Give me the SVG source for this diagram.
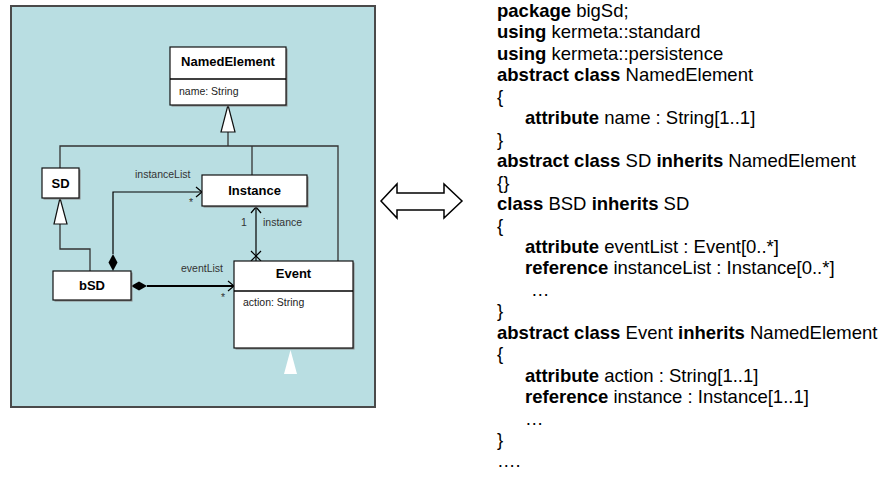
<svg xmlns="http://www.w3.org/2000/svg" width="882" height="485" viewBox="0 0 882 485">
<style>
.box{fill:#fff;stroke:#111;stroke-width:1.2}
.sh{fill:#888}
.title{font-family:"Liberation Sans",Arial,sans-serif;font-size:13px;font-weight:bold;fill:#000;text-anchor:middle}
.attr{font-family:"Liberation Sans",Arial,sans-serif;font-size:10.5px;fill:#222}
.lbl{font-family:"Liberation Sans",Arial,sans-serif;font-size:10.5px;fill:#333}
.div{stroke:#000;stroke-width:1.6}
.gen{fill:none;stroke:#333;stroke-width:1.3}
.tri{fill:#fff;stroke:#111;stroke-width:1.2}
.asc{fill:none;stroke:#000;stroke-width:1.2}
.code{font-family:"Liberation Sans",Arial,sans-serif;font-size:18.5px;fill:#000}
.b{font-weight:bold}
</style>
<rect x="11" y="6" width="364" height="401" fill="#B9DEE2" stroke="#4a4a4a" stroke-width="2"/>

<g id="connectors">
  <!-- generalization to NamedElement -->
  <polyline class="gen" points="228,132 228,146"/>
  <polyline class="gen" points="60,168 60,146 338,146 338,261"/>
  <polyline class="gen" points="252,146 252,175"/>
  <polygon class="tri" points="228,105 221,132 235,132"/>
  <!-- bSD -> SD generalization -->
  <polyline class="gen" points="60,224 60,249 90,249 90,271"/>
  <polygon class="tri" points="60,198 54,224 67,224"/>
  <!-- instanceList composition -->
  <polyline class="asc" points="113,254 113,192 202,192"/>
  <polygon points="113,254 117.5,262.5 113,271 108.5,262.5" fill="#000"/>
  <polyline class="asc" points="196,187 202,192 196,197"/>
  <!-- eventList composition -->
  <line x1="147" y1="286" x2="234" y2="286" stroke="#000" stroke-width="2.2"/>
  <polygon points="131,286 139,281.5 147,286 139,290.5" fill="#000"/>
  <polyline class="asc" points="228,281 234,286 228,291"/>
  <!-- instance association -->
  <line class="asc" x1="256" y1="207" x2="256" y2="261"/>
  <polyline class="asc" points="251,213 256,207 261,213"/>
  <path class="asc" d="M251,251 L261,261 M261,251 L251,261"/>
  <!-- labels -->
  <text class="lbl" x="135" y="178">instanceList</text>
  <text class="lbl" x="189" y="206">*</text>
  <text class="lbl" x="241" y="226">1</text>
  <text class="lbl" x="263" y="226">instance</text>
  <text class="lbl" x="181" y="272">eventList</text>
  <text class="lbl" x="221" y="301">*</text>
</g>

<g id="NamedElement">
  <rect class="sh" x="171.5" y="48.5" width="116" height="58"/>
  <rect class="box" x="170" y="47" width="116" height="58"/>
  <line class="div" x1="170" y1="79" x2="286" y2="79"/>
  <text class="title" x="228" y="66">NamedElement</text>
  <text class="attr" x="179" y="95">name: String</text>
</g>
<g id="SD">
  <rect class="sh" x="43.5" y="169.5" width="37" height="30"/>
  <rect class="box" x="42" y="168" width="37" height="30"/>
  <text class="title" x="60.5" y="188">SD</text>
</g>
<g id="Instance">
  <rect class="sh" x="203.5" y="176.5" width="105" height="31"/>
  <rect class="box" x="202" y="175" width="105" height="31"/>
  <text class="title" x="254.5" y="195">Instance</text>
</g>
<g id="bSD">
  <rect class="sh" x="54.5" y="272.5" width="78" height="29"/>
  <rect class="box" x="53" y="271" width="78" height="29"/>
  <text class="title" x="92" y="290">bSD</text>
</g>
<g id="Event">
  <rect class="sh" x="235.5" y="262.5" width="119" height="87"/>
  <rect class="box" x="234" y="261" width="119" height="87"/>
  <line class="div" x1="234" y1="291" x2="353" y2="291"/>
  <text class="title" x="293.5" y="278">Event</text>
  <text class="attr" x="243" y="306">action: String</text>
</g>
<polygon id="marker-white" points="290.5,350 284,374 297,374" fill="#fff"/>

<g id="double-arrow">
  <polygon points="381,201 397,184 397,193 444,193 444,184 462,201 444,218 444,210 397,210 397,218" fill="#fff" stroke="#000" stroke-width="1.5" stroke-linejoin="miter"/>
</g>

<g id="code" class="code">
  <text x="497" y="17"><tspan class="b">package</tspan> bigSd;</text>
  <text x="497" y="38.45"><tspan class="b">using</tspan> kermeta::standard</text>
  <text x="497" y="59.9"><tspan class="b">using</tspan> kermeta::persistence</text>
  <text x="497" y="81.35"><tspan class="b">abstract class</tspan> NamedElement</text>
  <text x="497" y="102.8">{</text>
  <text x="525" y="124.25"><tspan class="b">attribute</tspan> name : String[1..1]</text>
  <text x="497" y="145.7">}</text>
  <text x="497" y="167.15"><tspan class="b">abstract class</tspan> SD <tspan class="b">inherits</tspan> NamedElement</text>
  <text x="497" y="188.6">{}</text>
  <text x="497" y="210.05"><tspan class="b">class</tspan> BSD <tspan class="b">inherits</tspan> SD</text>
  <text x="497" y="231.5">{</text>
  <text x="525" y="252.95"><tspan class="b">attribute</tspan> eventList : Event[0..*]</text>
  <text x="525" y="274.4"><tspan class="b">reference</tspan> instanceList : Instance[0..*]</text>
  <text x="531" y="295.85">…</text>
  <text x="497" y="317.3">}</text>
  <text x="497" y="338.75"><tspan class="b">abstract class</tspan> Event <tspan class="b">inherits</tspan> NamedElement</text>
  <text x="497" y="360.2">{</text>
  <text x="525" y="381.65"><tspan class="b">attribute</tspan> action : String[1..1]</text>
  <text x="525" y="403.1"><tspan class="b">reference</tspan> instance : Instance[1..1]</text>
  <text x="525" y="424.55">…</text>
  <text x="497" y="446">}</text>
  <text x="497" y="467.45">….</text>
</g>
</svg>
